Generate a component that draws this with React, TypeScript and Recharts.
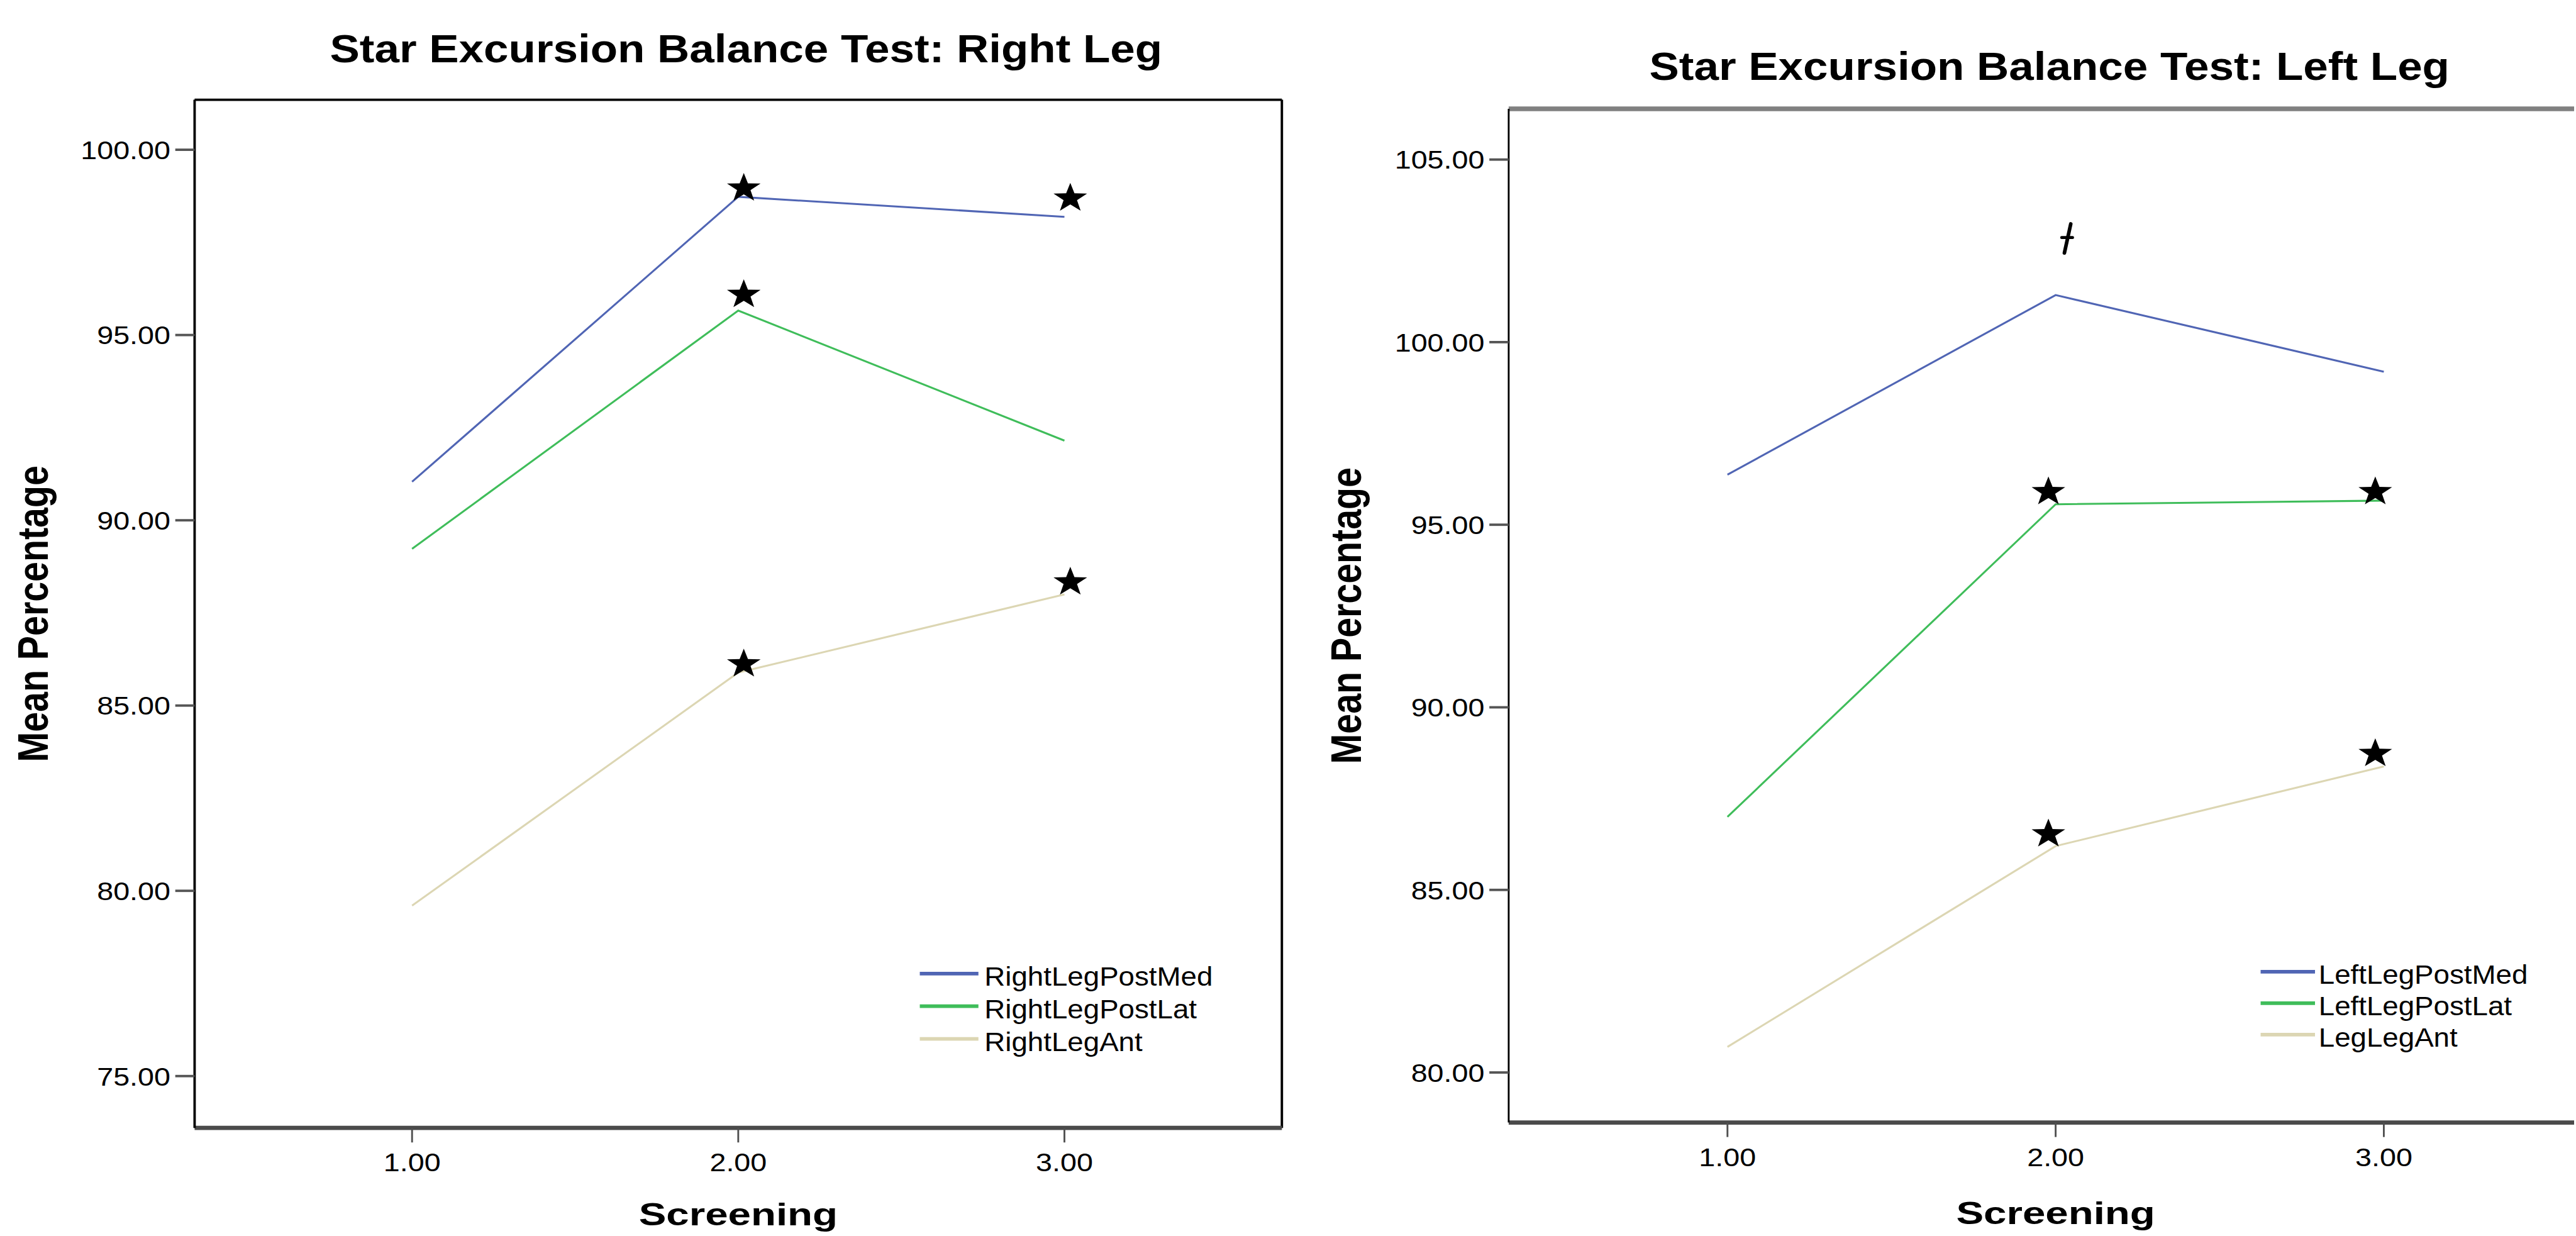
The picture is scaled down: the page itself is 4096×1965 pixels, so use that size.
import {
  ComposedChart,
  Legend,
  Line,
  ReferenceLine,
  Scatter,
  XAxis,
  YAxis,
} from "recharts"

// everything below is measured on the 4259x2043 reference and scaled down
const S = 0.961
const z = (v: number) => v * S
const FONT = "'Liberation Sans', Arial, Helvetica, sans-serif"

// shared x axis
const screening = [1, 2, 3]
const xTicks = [1, 2, 3]
const xDomain: [number, number] = [1 / 3, 11 / 3]

// right leg panel
const rightLegNames = ["RightLegPostMed", "RightLegPostLat", "RightLegAnt"]
const rightPostMed = [91.04, 98.73, 98.19]
const rightPostLat = [89.23, 95.66, 92.15]
const rightAnt = [79.6, 85.89, 88.0]
const rightYTicks = [75, 80, 85, 90, 95, 100]
const rightStarX = [2.017, 3.018, 2.017, 2.017, 3.018]
const rightStarY = [99.0, 98.73, 96.13, 86.16, 88.37]

// left leg panel
const leftLegNames = ["LeftLegPostMed", "LeftLegPostLat", "LegLegAnt"]
const leftPostMed = [96.37, 101.29, 99.19]
const leftPostLat = [87.0, 95.56, 95.66]
const leftAnt = [80.7, 86.2, 88.38]
const leftYTicks = [80, 85, 90, 95, 100, 105]
const leftStarX = [1.978, 2.974, 1.978, 2.974]
const leftStarY = [95.94, 95.94, 86.57, 88.77]
const leftDaggerX = [2.035]
const leftDaggerY = [102.84]

const lineColors = ["#5065b4", "#3fbd5a", "#dcd6b3"]

type Side = { color: string; w: number }

type PanelCfg = {
  title: string
  titleX: number
  titleY: number
  chartLeft: number
  plotLeft: number
  plotRight: number
  marginRight: number
  plotTop: number
  plotBottom: number
  yDomain: [number, number]
  yTicks: number[]
  names: string[]
  values: number[][]
  starX: number[]
  starY: number[]
  daggerX: number[]
  daggerY: number[]
  yLabelX: number
  xLabelY: number
  leftBorder: Side
  topBorder: Side
  rightBorder?: Side
  legend: {
    left: number
    top: number
    rows: number[]
    sampleFrom: number
    sampleTo: number
    textX: number
  }
}

const rightLegPanel: PanelCfg = {
  title: "Star Excursion Balance Test: Right Leg",
  titleX: 1234.5,
  titleY: 103,
  chartLeft: 0,
  plotLeft: 322,
  plotRight: 2121,
  marginRight: 19,
  plotTop: 165,
  plotBottom: 1866,
  yDomain: [73.6, 101.35],
  yTicks: rightYTicks,
  names: rightLegNames,
  values: [rightPostMed, rightPostLat, rightAnt],
  starX: rightStarX,
  starY: rightStarY,
  daggerX: [],
  daggerY: [],
  yLabelX: 79,
  xLabelY: 2027,
  leftBorder: { color: "#000", w: 4 },
  topBorder: { color: "#000", w: 4 },
  rightBorder: { color: "#000", w: 4 },
  legend: {
    left: 1510,
    top: 1580,
    rows: [31, 85, 139],
    sampleFrom: 12,
    sampleTo: 109,
    textX: 119,
  },
}

const leftLegPanel: PanelCfg = {
  title: "Star Excursion Balance Test: Left Leg",
  titleX: 3391,
  titleY: 132,
  chartLeft: 2160,
  plotLeft: 2496,
  plotRight: 4306,
  marginRight: 0,
  plotTop: 180,
  plotBottom: 1857,
  yDomain: [78.63, 106.39],
  yTicks: leftYTicks,
  names: leftLegNames,
  values: [leftPostMed, leftPostLat, leftAnt],
  starX: leftStarX,
  starY: leftStarY,
  daggerX: leftDaggerX,
  daggerY: leftDaggerY,
  yLabelX: 2252,
  xLabelY: 2025,
  leftBorder: { color: "#000", w: 3 },
  topBorder: { color: "#808080", w: 8 },
  legend: {
    left: 3728,
    top: 1578,
    rows: [30, 82, 134],
    sampleFrom: 12,
    sampleTo: 102,
    textX: 108,
  },
}

function StretchText({
  x,
  y,
  k,
  size,
  bold,
  anchor,
  rotate,
  children,
}: {
  x: number
  y: number
  k: number
  size: number
  bold?: boolean
  anchor: "start" | "middle" | "end"
  rotate?: number
  children: string
}) {
  const tf = `translate(${x},${y})${rotate ? ` rotate(${rotate})` : ""} scale(${k},1)`
  return (
    <text
      transform={tf}
      textAnchor={anchor}
      fontFamily={FONT}
      fontSize={size}
      fontWeight={bold ? 700 : 400}
      fill="#000"
    >
      {children}
    </text>
  )
}

const TICK_SIZE = z(43)

const yTick = (props: any) => {
  const { x, y, payload } = props
  return (
    <StretchText x={x} y={y + 0.358 * TICK_SIZE} k={1.13} size={TICK_SIZE} anchor="end">
      {Number(payload.value).toFixed(2)}
    </StretchText>
  )
}

const xTick = (props: any) => {
  const { x, y, payload } = props
  return (
    <StretchText x={x} y={y + 0.716 * TICK_SIZE} k={1.13} size={TICK_SIZE} anchor="middle">
      {Number(payload.value).toFixed(2)}
    </StretchText>
  )
}

const renderStar = (props: any) => {
  const { cx, cy } = props
  const R = z(25.4)
  const r = R * 0.4
  const sx = 1.15
  const oy = cy + 0.0955 * R
  const pts: string[] = []
  for (let i = 0; i < 10; i++) {
    const a = -Math.PI / 2 + (i * Math.PI) / 5
    const rad = i % 2 === 0 ? R : r
    pts.push(`${cx + Math.cos(a) * rad * sx},${oy + Math.sin(a) * rad}`)
  }
  return <polygon points={pts.join(" ")} fill="#000" />
}

const renderDagger = (props: any) => {
  const { cx, cy } = props
  return (
    <g stroke="#000" strokeLinecap="round" fill="none">
      <path d={`M${cx + z(6)},${cy - z(24)} L${cx - z(4.5)},${cy + z(24)}`} strokeWidth={z(6)} />
      <path d={`M${cx - z(9)},${cy - z(1.5)} L${cx + z(9)},${cy - z(1.5)}`} strokeWidth={z(5)} />
    </g>
  )
}

function Panel({ cfg }: { cfg: PanelCfg }) {
  const rows = screening.map((x, i) => ({
    x,
    s0: cfg.values[0][i],
    s1: cfg.values[1][i],
    s2: cfg.values[2][i],
  }))
  const stars = cfg.starX.map((x, i) => ({ x, mark: cfg.starY[i] }))
  const daggers = cfg.daggerX.map((x, i) => ({ x, mark: cfg.daggerY[i] }))
  const width = cfg.plotRight + cfg.marginRight - cfg.chartLeft
  const lg = cfg.legend

  const yLabel = (props: any) => {
    const vb = props.viewBox
    return (
      <StretchText
        x={z(cfg.yLabelX - cfg.chartLeft)}
        y={vb.y + vb.height / 2}
        k={0.84}
        size={z(71)}
        bold
        anchor="middle"
        rotate={-90}
      >
        Mean Percentage
      </StretchText>
    )
  }

  const xLabel = (props: any) => {
    const vb = props.viewBox
    return (
      <StretchText x={vb.x + vb.width / 2} y={z(cfg.xLabelY)} k={1.31} size={z(52)} bold anchor="middle">
        Screening
      </StretchText>
    )
  }

  // keep the series order of the original legend, colours taken from the payload
  const legendContent = (props: any) => {
    const payload: any[] = props.payload || []
    return (
      <svg width={z(600)} height={z(180)} style={{ display: "block" }}>
        {cfg.names.map((name, i) => {
          const hit = payload.find((it) => it.value === name)
          const color = hit?.color ?? lineColors[i]
          return (
            <g key={name}>
              <line
                x1={z(lg.sampleFrom)}
                x2={z(lg.sampleTo)}
                y1={z(lg.rows[i])}
                y2={z(lg.rows[i])}
                stroke={color}
                strokeWidth={z(6)}
              />
              <StretchText x={z(lg.textX)} y={z(lg.rows[i] + 20)} k={1.08} size={z(44)} anchor="start">
                {name}
              </StretchText>
            </g>
          )
        })}
      </svg>
    )
  }

  return (
    <div style={{ position: "absolute", left: z(cfg.chartLeft), top: 0 }}>
      <ComposedChart
        width={z(width)}
        height={z(2043)}
        data={rows}
        margin={{ top: z(cfg.plotTop), right: z(cfg.marginRight), bottom: 0, left: 0 }}
      >
        <XAxis
          dataKey="x"
          type="number"
          domain={xDomain}
          ticks={xTicks}
          allowDataOverflow
          interval={0}
          height={z(2043 - cfg.plotBottom)}
          tickSize={z(24)}
          tickMargin={z(17)}
          axisLine={{ stroke: "#4a4a4a", strokeWidth: z(7) }}
          tickLine={{ stroke: "#505050", strokeWidth: z(3) }}
          tick={xTick}
          label={xLabel}
        />
        <YAxis
          type="number"
          domain={cfg.yDomain}
          ticks={cfg.yTicks}
          allowDataOverflow
          interval={0}
          width={z(cfg.plotLeft - cfg.chartLeft)}
          tickSize={z(32)}
          tickMargin={z(8)}
          axisLine={{ stroke: cfg.leftBorder.color, strokeWidth: z(cfg.leftBorder.w) }}
          tickLine={{ stroke: "#555", strokeWidth: z(4) }}
          tick={yTick}
          label={yLabel}
        />
        <ReferenceLine
          y={cfg.yDomain[1]}
          stroke={cfg.topBorder.color}
          strokeWidth={z(cfg.topBorder.w)}
          ifOverflow="visible"
        />
        {cfg.rightBorder && (
          <ReferenceLine
            x={xDomain[1]}
            stroke={cfg.rightBorder.color}
            strokeWidth={z(cfg.rightBorder.w)}
            ifOverflow="visible"
          />
        )}
        {cfg.names.map((name, i) => (
          <Line
            key={name}
            type="linear"
            dataKey={`s${i}`}
            name={name}
            stroke={lineColors[i]}
            strokeWidth={z(3.2)}
            dot={false}
            activeDot={false}
            isAnimationActive={false}
          />
        ))}
        <Scatter
          data={stars}
          dataKey="mark"
          shape={renderStar}
          legendType="none"
          isAnimationActive={false}
        />
        {daggers.length > 0 && (
          <Scatter
            data={daggers}
            dataKey="mark"
            shape={renderDagger}
            legendType="none"
            isAnimationActive={false}
          />
        )}
        <Legend
          layout="vertical"
          align="center"
          verticalAlign="middle"
          width={z(600)}
          height={z(180)}
          content={legendContent}
          wrapperStyle={{
            position: "absolute",
            left: z(lg.left - cfg.chartLeft),
            top: z(lg.top),
            width: z(600),
            height: z(180),
          }}
        />
      </ComposedChart>
    </div>
  )
}

export default function App() {
  return (
    <div
      style={{
        position: "absolute",
        left: 0,
        top: 0,
        width: z(4259),
        height: z(2043),
        overflow: "hidden",
        background: "#fff",
      }}
    >
      <Panel cfg={rightLegPanel} />
      <Panel cfg={leftLegPanel} />
      <svg
        width={z(4259)}
        height={z(2043)}
        style={{ position: "absolute", left: 0, top: 0, pointerEvents: "none" }}
      >
        {[rightLegPanel, leftLegPanel].map((cfg) => (
          <StretchText
            key={cfg.title}
            x={z(cfg.titleX)}
            y={z(cfg.titleY)}
            k={1.119}
            size={z(66)}
            bold
            anchor="middle"
          >
            {cfg.title}
          </StretchText>
        ))}
      </svg>
    </div>
  )
}
